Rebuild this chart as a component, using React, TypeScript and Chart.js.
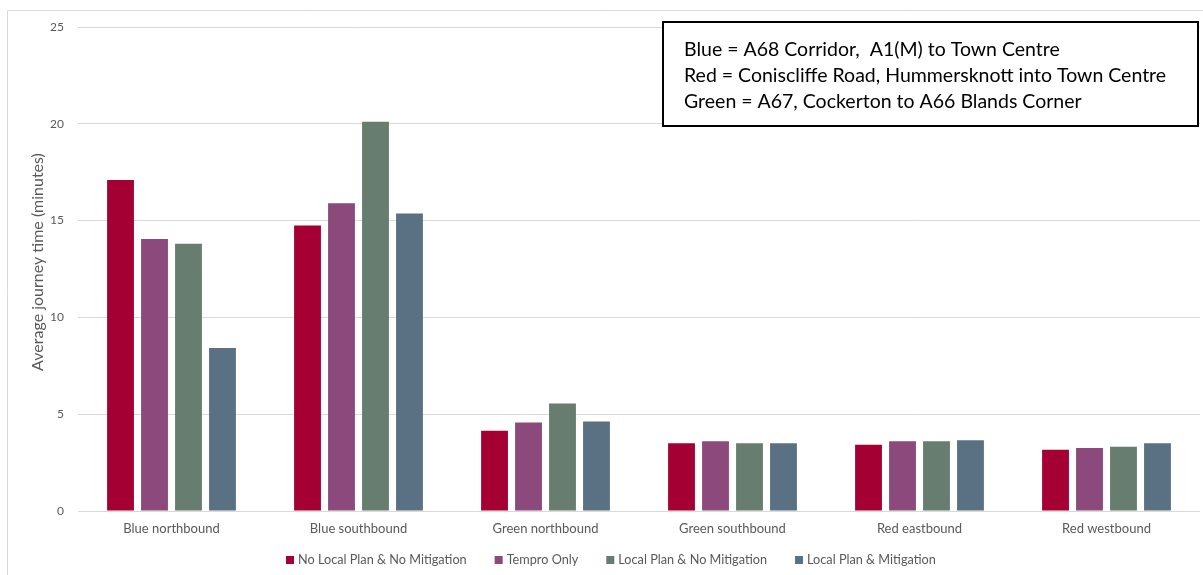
import React, { useEffect, useRef } from "react";
import { Chart, registerables } from "chart.js";

Chart.register(...registerables);

const categories = [
  "Blue northbound",
  "Blue southbound",
  "Green northbound",
  "Green southbound",
  "Red eastbound",
  "Red westbound",
];

const noLocalPlanNoMitigation = [17.1, 14.75, 4.15, 3.5, 3.42, 3.17];
const temproOnly = [14.05, 15.9, 4.57, 3.6, 3.6, 3.25];
const localPlanNoMitigation = [13.8, 20.1, 5.55, 3.5, 3.6, 3.32];
const localPlanMitigation = [8.42, 15.37, 4.62, 3.5, 3.65, 3.5];

const seriesLabels = [
  "No Local Plan & No Mitigation",
  "Tempro Only",
  "Local Plan & No Mitigation",
  "Local Plan & Mitigation",
];
const seriesColors = ["#A50034", "#8B4A7B", "#667D6F", "#5A7183"];

const yTicks = [0, 5, 10, 15, 20, 25];
const yTitle = "Average journey time (minutes)";
const noteLines = [
  "Blue = A68 Corridor,  A1(M) to Town Centre",
  "Red = Coniscliffe Road, Hummersknott into Town Centre",
  "Green = A67, Cockerton to A66 Blands Corner",
];

const FONT = "Lato, 'Liberation Sans', sans-serif";

const framePlugin = {
  id: "frame",
  afterDraw(chart: any) {
    const ctx = chart.ctx;
    ctx.save();
    ctx.strokeStyle = "#d9d9d9";
    ctx.lineWidth = 1;
    ctx.beginPath();
    ctx.moveTo(7.5, 575);
    ctx.lineTo(7.5, 10.5);
    ctx.lineTo(1203, 10.5);
    ctx.stroke();

    // y axis title
    ctx.save();
    ctx.translate(38, 262);
    ctx.rotate(-Math.PI / 2);
    ctx.fillStyle = "#595959";
    ctx.font = `16px ${FONT}`;
    ctx.textAlign = "center";
    ctx.textBaseline = "middle";
    ctx.fillText(yTitle, 0, 0);
    ctx.restore();

    // legend (drawn from the datasets)
    ctx.font = `12.7px ${FONT}`;
    ctx.textBaseline = "middle";
    ctx.textAlign = "left";
    const ly = 560;
    let lx = 286;
    chart.data.datasets.forEach((ds: any) => {
      ctx.fillStyle = ds.backgroundColor;
      ctx.fillRect(lx, ly - 4, 8, 8);
      ctx.fillStyle = "#595959";
      ctx.fillText(ds.label, lx + 12, ly);
      lx += 12 + ctx.measureText(ds.label).width + 28;
    });

    // note box
    const bx = 663, by = 22, bw = 535, bh = 104;
    ctx.fillStyle = "#ffffff";
    ctx.fillRect(bx, by, bw, bh);
    ctx.strokeStyle = "#000000";
    ctx.lineWidth = 2;
    ctx.strokeRect(bx, by, bw, bh);
    ctx.fillStyle = "#000000";
    ctx.font = `19.5px ${FONT}`;
    noteLines.forEach((line, i) => {
      ctx.fillText(line, bx + 21, by + 28 + i * 26);
    });
    ctx.restore();
  },
};

export default function App() {
  const canvasRef = useRef<HTMLCanvasElement | null>(null);

  useEffect(() => {
    const seriesData = [
      noLocalPlanNoMitigation,
      temproOnly,
      localPlanNoMitigation,
      localPlanMitigation,
    ];
    const chart = new Chart(canvasRef.current as HTMLCanvasElement, {
      type: "bar",
      data: {
        labels: categories,
        datasets: seriesData.map((d, i) => ({
          label: seriesLabels[i],
          data: d,
          backgroundColor: seriesColors[i],
          borderWidth: 0,
          barPercentage: 0.79,
          categoryPercentage: 0.727,
        })),
      },
      options: {
        animation: false,
        responsive: false,
        layout: { padding: { left: 0, right: 3, top: 27, bottom: 34 } },
        plugins: {
          tooltip: { enabled: false },
          legend: { display: false },
        },
        scales: {
          x: {
            grid: { display: false },
            border: { display: false },
            ticks: {
              color: "#595959",
              font: { family: FONT, size: 13 },
              padding: 2,
            },
            afterFit(scale: any) {
              scale.height = 30;
            },
          },
          y: {
            min: 0,
            max: 25,
            afterBuildTicks(scale: any) {
              scale.ticks = yTicks.map((v) => ({ value: v }));
            },
            grid: { color: "#d9d9d9", drawTicks: false },
            border: { display: false },
            ticks: {
              color: "#595959",
              font: { family: FONT, size: 12 },
              padding: 14,
            },
            afterFit(scale: any) {
              scale.width = 78;
            },
          },
        },
      },
      plugins: [framePlugin],
    });
    return () => chart.destroy();
  }, []);

  return (
    <div style={{ position: "fixed", left: 0, top: 0, width: 1203, height: 575, background: "#fff" }}>
      <canvas ref={canvasRef} width={1203} height={575} />
    </div>
  );
}
